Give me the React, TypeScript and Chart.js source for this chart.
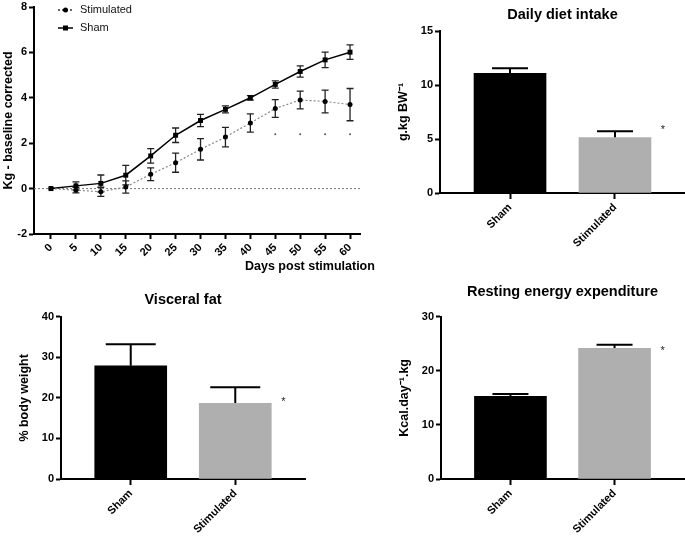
import React, { useEffect, useRef } from 'react';
import { Chart, registerables } from 'chart.js';
Chart.register(...registerables);

const FONT = "'Liberation Sans', Arial, Helvetica, sans-serif";

// ---- Panel A: body weight over time ----
const days = [0, 5, 10, 15, 20, 25, 30, 35, 40, 45, 50, 55, 60];
const stimMean = [0, -0.07, -0.14, 0.07, 0.63, 1.14, 1.73, 2.27, 2.89, 3.53, 3.9, 3.84, 3.7];
const stimErr = [0, 0.12, 0.2, 0.27, 0.28, 0.42, 0.47, 0.43, 0.4, 0.39, 0.39, 0.5, 0.71];
const shamMean = [0, 0.12, 0.23, 0.59, 1.44, 2.35, 3.0, 3.49, 4.0, 4.59, 5.16, 5.67, 6.01];
const shamErr = [0, 0.18, 0.37, 0.43, 0.32, 0.32, 0.27, 0.15, 0.1, 0.16, 0.25, 0.34, 0.32];
const sigDays = [45, 50, 55, 60];
const sigLevel = 2.39;

// ---- Bar panels ----
const groups = ['Sham', 'Stimulated'];
const barColors = ['#000000', '#afafaf'];
const dietMean = [11.08, 5.12];
const dietErr = [0.47, 0.59];
const dietStar = 6.1;
const fatMean = [27.9, 18.65];
const fatErr = [5.3, 3.95];
const fatStar = 19.7;
const reeMean = [15.28, 24.15];
const reeErr = [0.43, 0.68];
const reeStar = 24.3;

const tickFont = { family: FONT, size: 11, weight: 'bold' as const };
const axisTitleFont = { family: FONT, size: 12.5, weight: 'bold' as const };

const errorBarPlugin = {
  id: 'errorBars',
  beforeDatasetsDraw(chart: any, _args: any, opts: any) {
    const { ctx } = chart;
    const yScale = chart.scales.y;
    chart.data.datasets.forEach((ds: any, di: number) => {
      if (!ds.errors) return;
      const meta = chart.getDatasetMeta(di);
      meta.data.forEach((el: any, i: number) => {
        const err = ds.errors[i];
        if (!err) return;
        const raw = ds.data[i];
        const v = typeof raw === 'number' ? raw : raw.y;
        const x = el.x;
        const yTop = yScale.getPixelForValue(v + err);
        const yBot = yScale.getPixelForValue(opts.both ? v - err : v);
        ctx.save();
        ctx.strokeStyle = opts.color || '#000';
        ctx.lineWidth = opts.width || 2;
        ctx.beginPath();
        ctx.moveTo(x, yTop);
        ctx.lineTo(x, yBot);
        ctx.moveTo(x - opts.cap, yTop);
        ctx.lineTo(x + opts.cap, yTop);
        if (opts.both) {
          ctx.moveTo(x - opts.cap, yBot);
          ctx.lineTo(x + opts.cap, yBot);
        }
        ctx.stroke();
        ctx.restore();
      });
    });
  },
};

const zeroLinePlugin = {
  id: 'zeroLine',
  beforeDatasetsDraw(chart: any) {
    const { ctx, chartArea } = chart;
    const y = chart.scales.y.getPixelForValue(0);
    ctx.save();
    ctx.strokeStyle = '#777';
    ctx.lineWidth = 1;
    ctx.setLineDash([2, 2]);
    ctx.beginPath();
    ctx.moveTo(chartArea.left, y);
    ctx.lineTo(chartArea.right, y);
    ctx.stroke();
    ctx.restore();
  },
};

const lineLegendPlugin = {
  id: 'lineLegend',
  afterDraw(chart: any) {
    const { ctx, chartArea } = chart;
    const items = chart.data.datasets.filter((d: any) => d.inLegend);
    items.forEach((ds: any, i: number) => {
      const y = chartArea.top + 3 + i * 18;
      const x0 = chartArea.left + 24;
      ctx.save();
      ctx.strokeStyle = ds.legendLine;
      ctx.lineWidth = 1.5;
      ctx.setLineDash(ds.borderDash || []);
      ctx.beginPath();
      ctx.moveTo(x0, y);
      ctx.lineTo(x0 + 15, y);
      ctx.stroke();
      ctx.setLineDash([]);
      ctx.fillStyle = '#000';
      if (ds.pointStyle === 'rect') {
        ctx.fillRect(x0 + 7.5 - 2.5, y - 2.5, 5, 5);
      } else {
        ctx.beginPath();
        ctx.arc(x0 + 7.5, y, 2.5, 0, Math.PI * 2);
        ctx.fill();
      }
      ctx.font = `11px ${FONT}`;
      ctx.textBaseline = 'middle';
      ctx.textAlign = 'left';
      ctx.fillStyle = '#111';
      ctx.fillText(ds.label, x0 + 22, y);
      ctx.restore();
    });
  },
};

const xTitlePlugin = {
  id: 'xTitle',
  afterDraw(chart: any, _a: any, opts: any) {
    const { ctx, chartArea } = chart;
    ctx.save();
    ctx.font = `bold 12.5px ${FONT}`;
    ctx.fillStyle = '#000';
    ctx.textAlign = 'left';
    ctx.textBaseline = 'middle';
    ctx.fillText(opts.text, chartArea.left + 211, chartArea.bottom + 33);
    ctx.restore();
  },
};

const starPlugin = {
  id: 'stars',
  afterDatasetsDraw(chart: any, _a: any, opts: any) {
    const { ctx } = chart;
    const meta = chart.getDatasetMeta(0);
    const el: any = meta.data[opts.index];
    if (!el) return;
    const y = chart.scales.y.getPixelForValue(opts.level);
    ctx.save();
    ctx.font = `11px ${FONT}`;
    ctx.fillStyle = '#222';
    ctx.textAlign = 'center';
    ctx.textBaseline = 'alphabetic';
    ctx.fillText('*', el.x + 48, y + 6.3);
    ctx.restore();
  },
};

function yAxis(min: number, max: number, step: number, title: string, width: number) {
  return {
    type: 'linear' as const,
    min,
    max,
    ticks: { stepSize: step, font: tickFont, color: '#000', padding: 2 },
    grid: { drawOnChartArea: false, tickLength: 5, tickWidth: 2, tickColor: '#000' },
    border: { display: true, color: '#000', width: 2 },
    title: { display: true, text: title, font: axisTitleFont, color: '#000', padding: { top: 1, bottom: 0 } },
    afterFit: (s: any) => {
      s.width = width;
      s.paddingTop = 0;
      s.paddingBottom = 0;
    },
  };
}

function barXAxis(height: number) {
  return {
    type: 'linear' as const,
    min: 0.333,
    max: 2.667,
    offset: false,
    afterBuildTicks: (s: any) => {
      s.ticks = groups.map((_, i) => ({ value: i + 1 }));
    },
    ticks: {
      autoSkip: false,
      minRotation: 45,
      maxRotation: 45,
      font: tickFont,
      color: '#000',
      padding: 2,
      callback: (v: any) => groups[Number(v) - 1] ?? '',
    },
    grid: { offset: false, drawOnChartArea: false, tickLength: 6, tickWidth: 2, tickColor: '#000' },
    border: { display: true, color: '#000', width: 2 },
    afterFit: (s: any) => {
      s.height = height;
      s.paddingLeft = 0;
      s.paddingRight = 0;
    },
  };
}

function barConfig(opts: {
  title: string;
  yTitle: string;
  means: number[];
  errs: number[];
  yMax: number;
  step: number;
  star: number;
  cap: number;
  padLeft: number;
  padRight: number;
  titleTop: number;
  titleBottom: number;
  xHeight: number;
}): any {
  return {
    type: 'bar',
    data: {
      datasets: [
        {
          label: opts.title,
          data: groups.map((_, i) => ({ x: i + 1, y: opts.means[i] })),
          backgroundColor: barColors,
          borderWidth: 0,
          barThickness: 72,
          errors: opts.errs,
        },
      ],
    },
    options: {
      responsive: false,
      animation: false,
      layout: { padding: { left: opts.padLeft, right: opts.padRight, top: 0, bottom: 0 } },
      plugins: {
        legend: { display: false },
        tooltip: { enabled: false },
        title: {
          display: true,
          text: opts.title,
          fullSize: false,
          color: '#000',
          font: { family: FONT, size: 14.5, weight: 'bold' },
          padding: { top: opts.titleTop, bottom: opts.titleBottom },
        },
        errorBars: { both: false, cap: opts.cap, width: 2, color: '#000' },
        stars: { index: 1, level: opts.star },
      },
      scales: {
        x: barXAxis(opts.xHeight),
        y: yAxis(0, opts.yMax, opts.step, opts.yTitle, 45),
      },
    },
    plugins: [errorBarPlugin, starPlugin],
  };
}

function lineConfig(): any {
  return {
    type: 'line',
    data: {
      datasets: [
        {
          label: 'Stimulated',
          data: days.map((d, i) => ({ x: d, y: stimMean[i] })),
          errors: stimErr,
          borderColor: '#888',
          legendLine: '#333',
          borderWidth: 1.2,
          borderDash: [2, 2],
          pointStyle: 'circle',
          pointRadius: 2.5,
          pointBackgroundColor: '#000',
          pointBorderColor: '#000',
          pointBorderWidth: 0,
          tension: 0,
          inLegend: true,
        },
        {
          label: 'Sham',
          data: days.map((d, i) => ({ x: d, y: shamMean[i] })),
          errors: shamErr,
          borderColor: '#000',
          legendLine: '#000',
          borderWidth: 1.5,
          pointStyle: 'rect',
          pointRadius: 3.5,
          pointBackgroundColor: '#000',
          pointBorderColor: '#000',
          pointBorderWidth: 0,
          tension: 0,
          inLegend: true,
        },
        {
          label: 'significance',
          data: sigDays.map((d) => ({ x: d, y: sigLevel })),
          showLine: false,
          pointRadius: 1,
          pointBackgroundColor: '#555',
          pointBorderWidth: 0,
        },
      ],
    },
    options: {
      responsive: false,
      animation: false,
      layout: { padding: { left: 0, right: 40, top: 7, bottom: 0 } },
      plugins: {
        legend: { display: false },
        tooltip: { enabled: false },
        errorBars: { both: true, cap: 3.5, width: 1.3, color: '#222' },
        xTitle: { text: 'Days post stimulation' },
      },
      scales: {
        x: {
          type: 'linear',
          min: -3.41,
          max: 62,
          afterBuildTicks: (s: any) => {
            s.ticks = days.map((d) => ({ value: d }));
          },
          ticks: {
            autoSkip: false,
            minRotation: 45,
            maxRotation: 45,
            font: tickFont,
            color: '#000',
            padding: 2,
            callback: (v: any) => String(v),
          },
          grid: { drawOnChartArea: false, tickLength: 5, tickWidth: 2, tickColor: '#000' },
          border: { display: true, color: '#000', width: 2 },
          afterFit: (s: any) => {
            s.height = 46;
            s.paddingLeft = 0;
            s.paddingRight = 0;
          },
        },
        y: yAxis(-2, 8, 2, 'Kg - baseline corrected', 34),
      },
    },
    plugins: [zeroLinePlugin, errorBarPlugin, lineLegendPlugin, xTitlePlugin],
  };
}

function ChartBox(props: { left: number; top: number; width: number; height: number; make: () => any }) {
  const ref = useRef<HTMLCanvasElement>(null);
  useEffect(() => {
    const chart = new Chart(ref.current as HTMLCanvasElement, props.make());
    return () => chart.destroy();
  }, []);
  return (
    <canvas
      ref={ref}
      width={props.width}
      height={props.height}
      style={{ position: 'absolute', left: props.left, top: props.top, width: props.width, height: props.height }}
    />
  );
}

export default function App() {
  return (
    <div
      style={{
        position: 'absolute',
        left: 0,
        top: 0,
        width: 685,
        height: 542,
        overflow: 'hidden',
        background: '#fff',
      }}
    >
      <ChartBox left={0} top={0} width={400} height={280} make={lineConfig} />
      <ChartBox
        left={370}
        top={0}
        width={315}
        height={280}
        make={() =>
          barConfig({
            title: 'Daily diet intake',
            yTitle: 'g.kg BW⁻¹',
            means: dietMean,
            errs: dietErr,
            yMax: 15,
            step: 5,
            star: dietStar,
            cap: 18,
            padLeft: 25,
            padRight: 0,
            titleTop: 6.3,
            titleBottom: 7.3,
            xHeight: 87,
          })
        }
      />
      <ChartBox
        left={0}
        top={280}
        width={365}
        height={262}
        make={() =>
          barConfig({
            title: 'Visceral fat',
            yTitle: '% body weight',
            means: fatMean,
            errs: fatErr,
            yMax: 40,
            step: 10,
            star: fatStar,
            cap: 25,
            padLeft: 16,
            padRight: 60,
            titleTop: 11.3,
            titleBottom: 8,
            xHeight: 63,
          })
        }
      />
      <ChartBox
        left={370}
        top={280}
        width={315}
        height={262}
        make={() =>
          barConfig({
            title: 'Resting energy expenditure',
            yTitle: 'Kcal.day⁻¹.kg',
            means: reeMean,
            errs: reeErr,
            yMax: 30,
            step: 10,
            star: reeStar,
            cap: 18,
            padLeft: 26,
            padRight: 1,
            titleTop: 3.3,
            titleBottom: 16,
            xHeight: 63,
          })
        }
      />
    </div>
  );
}
